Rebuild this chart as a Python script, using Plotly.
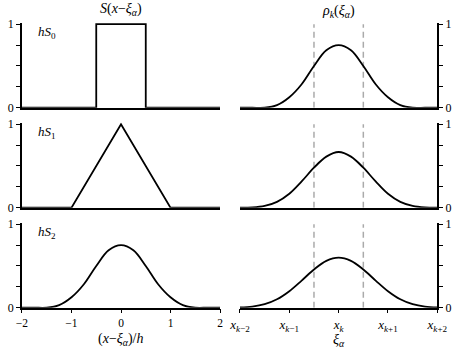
import plotly.graph_objects as go

# ---------------- data ----------------
s0_x = [-2, -0.5, -0.5, 0.5, 0.5, 2]
s0_y = [0, 0, 1, 1, 0, 0]
s1_x = [-2, -1, 0, 1, 2]
s1_y = [0, 0, 1, 0, 0]
grid_x = [-2, -1.75, -1.5, -1.25, -1, -0.75, -0.5, -0.25, 0,
          0.25, 0.5, 0.75, 1, 1.25, 1.5, 1.75, 2]
s2_y = [0, 0, 0, 0.031, 0.125, 0.281, 0.5, 0.688, 0.75,
        0.688, 0.5, 0.281, 0.125, 0.031, 0, 0, 0]
rho0_y = [0, 0, 0, 0.031, 0.125, 0.281, 0.5, 0.688, 0.75,
          0.688, 0.5, 0.281, 0.125, 0.031, 0, 0, 0]
rho1_y = [0, 0.003, 0.021, 0.07, 0.167, 0.315, 0.479, 0.612, 0.667,
          0.612, 0.479, 0.315, 0.167, 0.07, 0.021, 0.003, 0]
rho2_y = [0.003, 0.013, 0.042, 0.101, 0.198, 0.325, 0.458, 0.561, 0.599,
          0.561, 0.458, 0.325, 0.198, 0.101, 0.042, 0.013, 0.003]
cell_edges = [-0.5, 0.5]
left_ticks = [-2, -1, 0, 1, 2]
left_ticktext = ["\u22122", "\u22121", "0", "1", "2"]
right_ticks = [-2, -1, 0, 1, 2]
right_ticktext = ["<i>x</i><sub><i>k</i>\u22122</sub>", "<i>x</i><sub><i>k</i>\u22121</sub>",
                  "<i>x</i><sub><i>k</i></sub>", "<i>x</i><sub><i>k</i>+1</sub>",
                  "<i>x</i><sub><i>k</i>+2</sub>"]
y_ticks = [0, 0.25, 0.5, 0.75, 1]
y_ticktext = ["0", "", "", "", "1"]
panel_labels = ["<i>hS</i><sub>0</sub>", "<i>hS</i><sub>1</sub>", "<i>hS</i><sub>2</sub>"]

FONT = "Liberation Serif"
fig = go.Figure()

line = dict(color="black", width=1.8)
dash = dict(color="#aaaaaa", width=1.5, dash="6px,4px")

left_data = [(s0_x, s0_y, "linear"), (s1_x, s1_y, "linear"), (grid_x, s2_y, "spline")]
right_data = [rho0_y, rho1_y, rho2_y]

bottoms = [0.6923, 0.4066, 0.1209]
unit = 0.2385
ytop = 1.02

for r in range(3):
    li = 2 * r + 1
    ri = 2 * r + 2
    lx = "x" if li == 1 else f"x{li}"
    ly = "y" if li == 1 else f"y{li}"
    rx = f"x{ri}"
    ry = f"y{ri}"
    xs, ys, shp = left_data[r]
    fig.add_trace(go.Scatter(x=xs, y=ys, mode="lines", line=dict(line, shape=shp),
                             xaxis=lx, yaxis=ly, showlegend=False, hoverinfo="skip"))
    for e in cell_edges:
        fig.add_trace(go.Scatter(x=[e, e], y=[0, 1], mode="lines", line=dash,
                                 xaxis=rx, yaxis=ry, showlegend=False, hoverinfo="skip"))
    fig.add_trace(go.Scatter(x=grid_x, y=right_data[r], mode="lines",
                             line=dict(line, shape="spline", smoothing=1),
                             xaxis=rx, yaxis=ry, showlegend=False, hoverinfo="skip"))

    dom = [bottoms[r], bottoms[r] + unit * ytop]
    bottom_row = (r == 2)
    common_x = dict(range=[-2, 2], showline=True, linecolor="black", linewidth=1.5,
                    showgrid=False, zeroline=False, automargin=False,
                    ticks="outside" if bottom_row else "", ticklen=4, tickwidth=1.2,
                    tickcolor="black", showticklabels=bottom_row)
    common_y = dict(range=[0, ytop], domain=dom, showline=True, linecolor="black",
                    linewidth=1.5, showgrid=False, zeroline=False, ticks="outside",
                    automargin=False,
                    ticklen=4, tickwidth=1.2, tickcolor="black",
                    tickvals=y_ticks, ticktext=y_ticktext,
                    tickfont=dict(family=FONT, size=12, color="black"))
    lxname = "xaxis" if li == 1 else f"xaxis{li}"
    lyname = "yaxis" if li == 1 else f"yaxis{li}"
    fig.layout[lxname] = dict(common_x, domain=[0.0478, 0.4783], anchor=ly,
                              tickvals=left_ticks, ticktext=left_ticktext,
                              tickfont=dict(family=FONT, size=11.5, color="black"))
    fig.layout[lyname] = dict(common_y, anchor=lx, side="left")
    fig.layout[f"xaxis{ri}"] = dict(common_x, domain=[0.5217, 0.9507], anchor=ry,
                                    tickvals=right_ticks, ticktext=right_ticktext,
                                    tickfont=dict(family=FONT, size=13, color="black"))
    fig.layout[f"yaxis{ri}"] = dict(common_y, anchor=rx, side="right")

    fig.add_annotation(x=-1.72, y=0.9, xref=lx, yref=ly, text=panel_labels[r],
                       showarrow=False, xanchor="left", yanchor="middle",
                       font=dict(family=FONT, size=13, color="black"))

fig.add_annotation(x=0, y=0.972, xref="x", yref="paper",
                   text="<i>S</i>(<i>x</i>\u2212<i>\u03be</i><sub><i>\u03b1</i></sub>)",
                   showarrow=False, xanchor="center", yanchor="middle",
                   font=dict(family=FONT, size=14, color="black"))
fig.add_annotation(x=0, y=0.966, xref="x2", yref="paper",
                   text="<i>\u03c1</i><sub><i>k</i></sub>(<i>\u03be</i><sub><i>\u03b1</i></sub>)",
                   showarrow=False, xanchor="center", yanchor="middle",
                   font=dict(family=FONT, size=14, color="black"))
fig.add_annotation(x=0, y=0.031, xref="x5", yref="paper",
                   text="(<i>x</i>\u2212<i>\u03be</i><sub><i>\u03b1</i></sub>)/<i>h</i>",
                   showarrow=False, xanchor="center", yanchor="middle",
                   font=dict(family=FONT, size=14, color="black"))
fig.add_annotation(x=0, y=0.028, xref="x6", yref="paper",
                   text="<i>\u03be</i><sub><i>\u03b1</i></sub>",
                   showarrow=False, xanchor="center", yanchor="middle",
                   font=dict(family=FONT, size=14, color="black"))

fig.update_layout(template="none", width=460, height=350,
                  margin=dict(l=0, r=0, t=0, b=0, pad=0),
                  font=dict(family=FONT, size=13, color="black"),
                  plot_bgcolor="white", paper_bgcolor="white")
fig.write_html("out.html", config={"displayModeBar": False},
               post_script="document.body.style.margin='0';document.body.style.padding='0';")
